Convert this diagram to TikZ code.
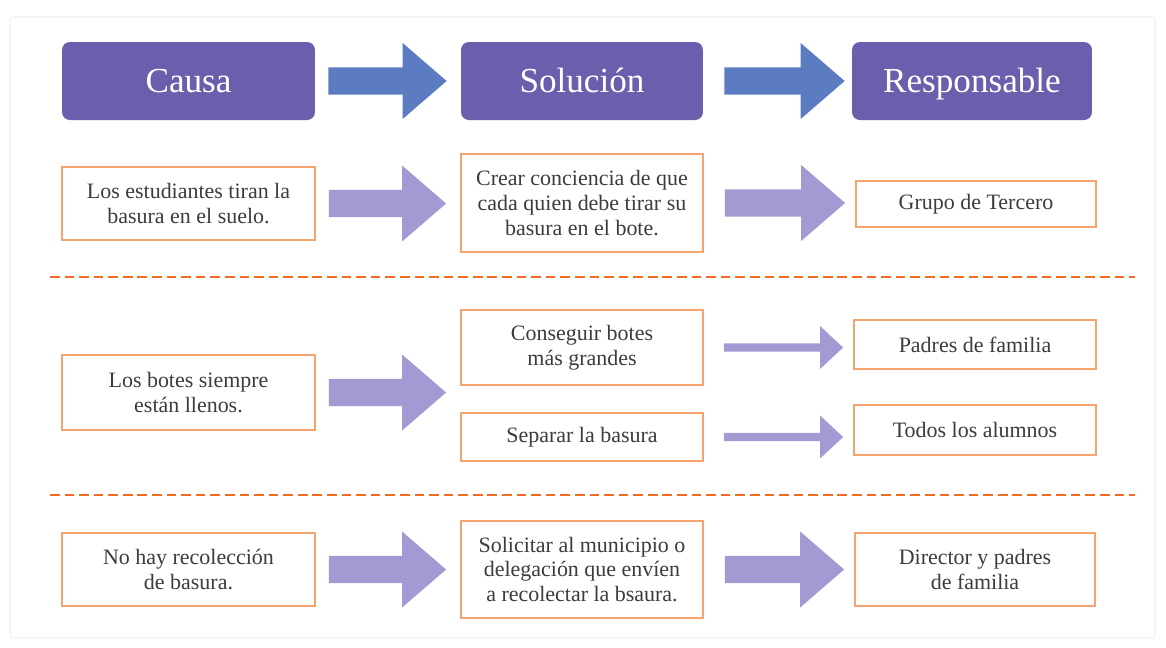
\documentclass[tikz,border=0pt]{standalone}
\usepackage{fontspec}
\setmainfont{Liberation Serif}
\usetikzlibrary{calc}

\definecolor{headpurple}{HTML}{6B5FAD}
\definecolor{headblue}{HTML}{5C7CC2}
\definecolor{lavender}{HTML}{A39AD3}
\definecolor{boxorange}{HTML}{F5A46F}
\definecolor{dashorange}{HTML}{F26B22}
\definecolor{txtgray}{HTML}{3C3C3C}

% block arrow: colour, from, to, start gap, end gap
\newcommand\bigarrow[5]{%
  \fill[#1] let \p1=(#2.east), \p2=(#3.west) in
    (\x1+#4,\y1+7.7pt) -- (\x2-#5-25pt,\y1+7.7pt) -- (\x2-#5-25pt,\y1+21.6pt)
    -- (\x2-#5,\y1) -- (\x2-#5-25pt,\y1-21.6pt) -- (\x2-#5-25pt,\y1-7.7pt)
    -- (\x1+#4,\y1-7.7pt) -- cycle;}
% thin arrow: from, to
\newcommand\thinarrow[2]{%
  \fill[lavender] let \p1=(#1.east), \p2=(#2.west) in
    (\x1+11.4pt,\y1+2.3pt) -- (\x2-18.8pt,\y1+2.3pt) -- (\x2-18.8pt,\y1+12.2pt)
    -- (\x2-5.7pt,\y1) -- (\x2-18.8pt,\y1-12.2pt) -- (\x2-18.8pt,\y1-2.3pt)
    -- (\x1+11.4pt,\y1-2.3pt) -- cycle;}

\begin{document}
\begin{tikzpicture}[x=0.02cm,y=-0.02cm]
\tikzstyle{head}=[fill=headpurple, rounded corners=4.5pt, text=white, font=\fontsize{20}{24}\selectfont, minimum height=1.56cm, inner sep=0pt, text height=15.6pt, text depth=2pt]
\tikzstyle{box}=[draw=boxorange, line width=1pt, fill=white, text=txtgray, align=center, font=\fontsize{12.5}{14.2}\selectfont, inner sep=0pt]
\tikzstyle{sep}=[dashorange, line width=1.6pt, dash pattern=on 5.5pt off 2.8pt]

\useasboundingbox (0,0) rectangle (1166,647);
\draw[black!4, line width=1pt, rounded corners=2pt] (10,17) rectangle (1155,638);

% headers
\node[head, minimum width=5.06cm](causa)       at (188.5, 81) {Causa};
\node[head, minimum width=4.84cm](solucion)    at (582, 81)   {Solución};
\node[head, minimum width=4.8cm] (responsable) at (972, 81)   {Responsable};

% first cause
\node[box, minimum width=5.06cm, minimum height=1.46cm](c1)  at (188.5, 203.5) {Los estudiantes tiran la\\ basura en el suelo.};
\node[box, minimum width=4.84cm, minimum height=1.96cm](s1)  at (582, 203)     {Crear conciencia de que\\ cada quien debe tirar su\\ basura en el bote.};
\node[box, minimum width=4.8cm,  minimum height=0.92cm](r1)  at (976, 204)     {Grupo de Tercero};

% second cause
\node[box, minimum width=5.06cm, minimum height=1.5cm] (c2)  at (188.5, 392.5) {Los botes siempre\\ están llenos.};
\node[box, minimum width=4.84cm, minimum height=1.5cm] (s2a) at (582, 347.5)   {Conseguir botes\\ más grandes};
\node[box, minimum width=4.84cm, minimum height=0.96cm](s2b) at (582, 437)     {Separar la basura};
\node[box, minimum width=4.84cm, minimum height=0.98cm](r2a) at (975, 344.5)   {Padres de familia};
\node[box, minimum width=4.84cm, minimum height=1cm]   (r2b) at (975, 430)     {Todos los alumnos};

% third cause
\node[box, minimum width=5.06cm, minimum height=1.46cm](c3)  at (188.5, 569.5) {No hay recolección\\ de basura.};
\node[box, minimum width=4.84cm, minimum height=1.94cm](s3)  at (582, 569.5)   {Solicitar al municipio o\\ delegación que envíen\\ a recolectar la bsaura.};
\node[box, minimum width=4.8cm,  minimum height=1.46cm](r3)  at (975, 569.5)   {Director y padres\\ de familia};

\draw[sep] (50,277) -- (1135,277);
\draw[sep] (50,495) -- (1135,495);

\bigarrow{headblue}{causa}{solucion}{7.4pt}{8pt}
\bigarrow{headblue}{solucion}{responsable}{12pt}{4pt}
\bigarrow{lavender}{c1}{s1}{7.4pt}{8pt}
\bigarrow{lavender}{s1}{r1}{12pt}{5.7pt}
\bigarrow{lavender}{c2}{s2a}{7.4pt}{8pt}
\thinarrow{s2a}{r2a}
\thinarrow{s2b}{r2b}
\bigarrow{lavender}{c3}{s3}{7.4pt}{8pt}
\bigarrow{lavender}{s3}{r3}{12pt}{5.7pt}
\end{tikzpicture}
\end{document}
